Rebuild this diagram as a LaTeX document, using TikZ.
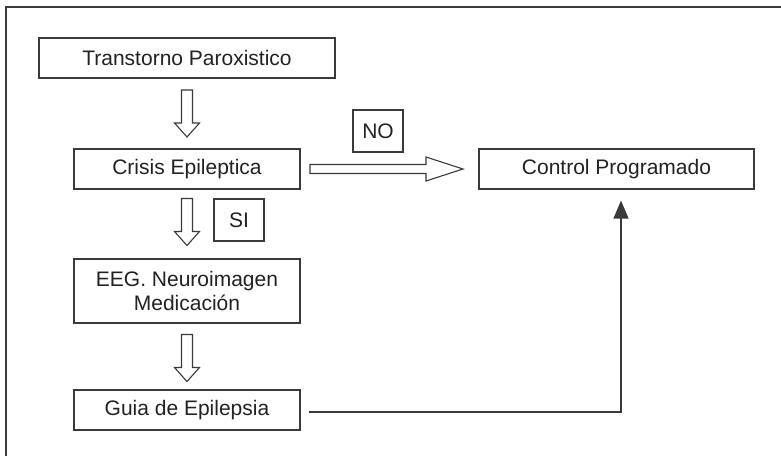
\documentclass[tikz,border=0pt]{standalone}
\usepackage{fontspec}
\setmainfont{Liberation Sans}
\usetikzlibrary{arrows.meta,calc}
\definecolor{ln}{HTML}{3A3A3A}
\definecolor{tx}{HTML}{222222}
\tikzset{
  box/.style={draw=ln, line width=1.1pt, fill=white, inner sep=0pt, align=center,
    text=tx, font=\fontsize{21}{24}\selectfont},
  hollow/.style={draw=ln, line width=1.1pt, fill=white, line join=miter},
  hdown/.pic={\path[hollow] (-5.5,-23.5) -- (5.5,-23.5) -- (5.5,9.5) -- (12.5,9.5)
      -- (0,23.5) -- (-12.5,9.5) -- (-5.5,9.5) -- cycle;},
  hright/.pic={\path[hollow] (-76.5,-4.5) -- (39.5,-4.5) -- (39.5,-12) -- (76.5,0)
      -- (39.5,12) -- (39.5,4.5) -- (-76.5,4.5) -- cycle;},
  link/.style={draw=ln, line width=1.2pt, -{Triangle[length=18pt,width=15pt]}}
}
\begin{document}
\begin{tikzpicture}[x=1pt,y=-1pt]
\useasboundingbox (0,0) rectangle (781,456);
\fill[white] (0,0) rectangle (781,456);
\draw[ln, line width=1.1pt] (6,456) -- (6,7) -- (781,7);

\node[box, minimum width=296pt, minimum height=40pt] (b1) at (187,58) {Transtorno Paroxistico};
\node[box, minimum width=226pt, minimum height=40pt] (b2) at (187,169) {Crisis Epileptica};
\node[box, minimum width=226pt, minimum height=64pt] (b3) at (187,291) {EEG. Neuroimagen\\Medicación};
\node[box, minimum width=226pt, minimum height=40pt] (b4) at (187,410) {Guia de Epilepsia};
\node[box, minimum width=275pt, minimum height=40pt] (ctrl) at (616.5,169) {Control Programado};
\node[box, minimum width=50pt, minimum height=42pt] (no) at (378,131) {NO};
\node[box, minimum width=50pt, minimum height=42pt] (si) at (239,220) {SI};

\pic at ($(b1.south)!0.5!(b2.north)$) {hdown};
\pic at ($(b2.south)!0.5!(b3.north)+(0,-2)$) {hdown};
\pic at ($(b3.south)!0.5!(b4.north)+(0,1.5)$) {hdown};
\pic at ($(b2.east)!0.5!(ctrl.west)+(-3,0)$) {hright};

\draw[link] ([xshift=8pt,yshift=-2pt]b4.east) -| ([xshift=4.5pt,yshift=-11pt]ctrl.south);
\end{tikzpicture}
\end{document}
